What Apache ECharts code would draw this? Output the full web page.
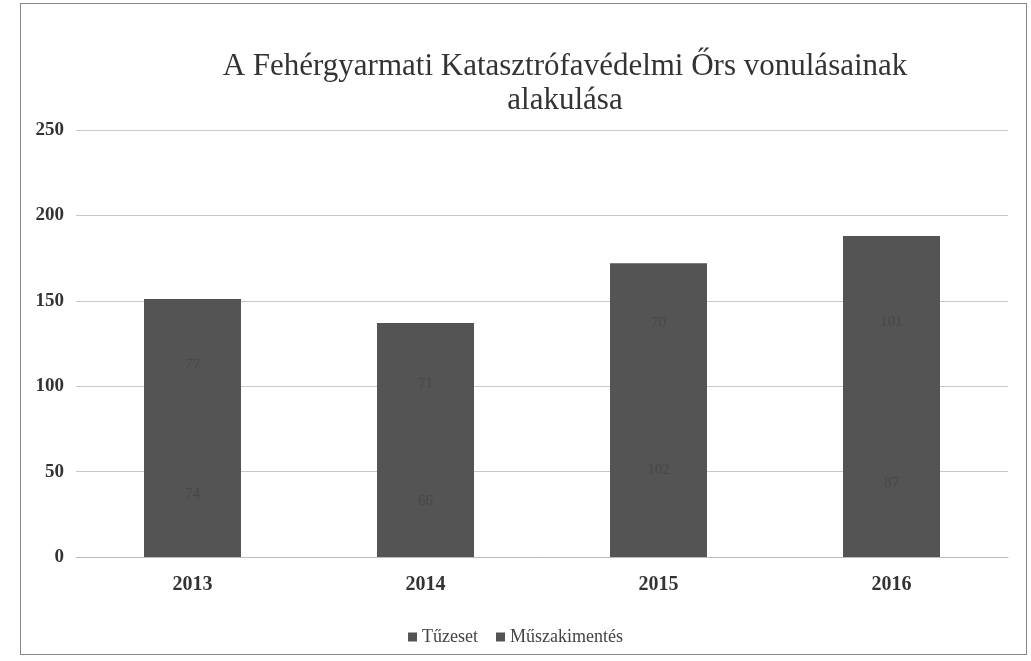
<!DOCTYPE html>
<html>
<head>
<meta charset="utf-8">
<script src="https://cdn.jsdelivr.net/npm/echarts@6/dist/echarts.min.js"></script>
<style>
  html, body { margin: 0; padding: 0; background: #fff; }
  #chart { width: 1031px; height: 661px; }
  #frame { position: absolute; left: 20px; top: 3px; width: 1005px; height: 650px; border: 1px solid #888; pointer-events: none; }
</style>
</head>
<body>
<div id="chart"></div>
<div id="frame"></div>
<script>
  // adatok
  var years = ['2013', '2014', '2015', '2016'];
  var tuzeset = [74, 66, 102, 87];
  var muszaki = [77, 71, 70, 101];
  var yTicks = [0, 50, 100, 150, 200, 250];

  // oszlop teljes magassága (a két sorozat összege)
  var totals = tuzeset.map(function (v, i) { return v + muszaki[i]; });

  var chart = echarts.init(document.getElementById('chart'));
  var serif = '"Liberation Serif", "DejaVu Serif", serif';

  chart.setOption({
    backgroundColor: '#fff',
    animation: false,
    title: {
      text: 'A Fehérgyarmati Katasztrófavédelmi Őrs vonulásainak\nalakulása',
      left: 560,
      top: 45,
      textAlign: 'center',
      textStyle: { fontFamily: serif, fontSize: 31, fontWeight: 'normal', color: '#333', lineHeight: 34 }
    },
    legend: {
      data: [
        { name: 'Tűzeset', itemStyle: { color: '#535353' } },
        { name: 'Műszakimentés', itemStyle: { color: '#545454' } }
      ],
      left: 'center',
      top: 623,
      itemWidth: 9,
      itemHeight: 9,
      itemGap: 18,
      icon: 'rect',
      selectedMode: false,
      textStyle: { fontFamily: serif, fontSize: 18, color: '#444' }
    },
    grid: { left: 76, right: 23, top: 130, bottom: 104 },
    xAxis: {
      type: 'category',
      data: years,
      axisTick: { show: false },
      axisLine: { lineStyle: { color: '#bbb' } },
      axisLabel: { fontFamily: serif, fontSize: 20, fontWeight: 'bold', color: '#333', margin: 18 }
    },
    yAxis: {
      type: 'value',
      min: yTicks[0],
      max: yTicks[yTicks.length - 1],
      interval: 50,
      axisLabel: { fontFamily: serif, fontSize: 19, fontWeight: 'bold', color: '#333', margin: 12 },
      splitLine: { lineStyle: { color: '#c8c8c8' } }
    },
    series: [
      {
        name: 'Tűzeset',
        type: 'bar',
        stack: 'v',
        data: tuzeset,
        barWidth: 97,
        z: 3,
        itemStyle: { color: '#545454' },
        label: { show: true, position: 'inside', color: '#474747', fontFamily: serif, fontSize: 15 }
      },
      {
        name: 'Műszakimentés',
        type: 'bar',
        stack: 'v',
        data: muszaki,
        barWidth: 97,
        z: 3,
        itemStyle: { color: 'rgba(0,0,0,0)' },
        label: { show: true, position: 'inside', color: '#494949', fontFamily: serif, fontSize: 15 }
      },
      {
        name: 'osszes',
        type: 'bar',
        data: totals,
        barWidth: 97,
        barGap: '-100%',
        z: 2,
        silent: true,
        itemStyle: { color: '#545454' },
        label: { show: false }
      }
    ]
  });
</script>
</body>
</html>
